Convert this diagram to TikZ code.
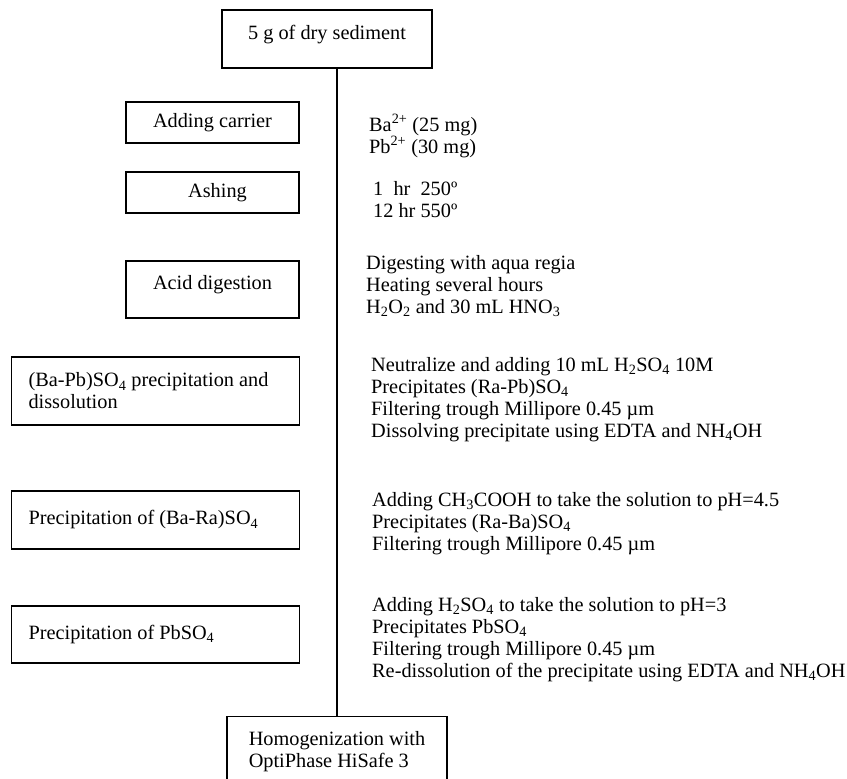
\documentclass[tikz,border=0pt]{standalone}
\usepackage{fontspec}
\setmainfont{Liberation Serif}

\begin{document}
\begin{tikzpicture}[x=1pt,y=-1pt,
    every node/.style={font=\fontsize{20.3}{22}\selectfont},
    stepbox/.style={draw, line width=1.1pt, inner sep=0pt, align=center, minimum width=173pt},
    widebox/.style={draw, line width=1.1pt, anchor=west, inner xsep=17pt, inner ysep=0pt,
                    text width=254pt, align=flush left},
    infotext/.style={anchor=west, inner sep=0pt, align=flush left}]
  \useasboundingbox (0,0) rectangle (847,779);
  \node[stepbox, minimum width=210pt, minimum height=58pt, text depth=14pt] (start) at (327,39) {5 g of dry sediment};
  \node[stepbox, minimum height=41pt] (carrier) at (212.5,122.5) {Adding carrier};
  \node[stepbox, minimum height=41pt] (ashing) at (212.5,192.5) {\hspace{10pt}Ashing};
  \node[stepbox, minimum height=57pt, text depth=13.5pt] (digestion) at (212.5,289.5) {Acid digestion};
  \node[widebox, minimum height=68pt] (bapb) at (11,391) {(Ba-Pb)SO\textsubscript{4} precipitation and\\dissolution};
  \node[widebox, minimum height=58pt] (bara) at (11,520) {Precipitation of (Ba-Ra)SO\textsubscript{4}};
  \node[widebox, minimum height=57pt] (pbso) at (11,634.5) {Precipitation of PbSO\textsubscript{4}};
  \node[stepbox, anchor=north, minimum width=220pt, inner ysep=15pt, align=flush left] (finish) at (337,716) {Homogenization with\\OptiPhase HiSafe 3};
  \draw[line width=1.1pt] (start.south -| finish.north) -- (finish.north);
  \node[infotext] (carrierinfo) at (369,136) {Ba\textsuperscript{2+} (25 mg)\\Pb\textsuperscript{2+} (30 mg)};
  \node[infotext] (ashinginfo) at (373,200) {1\ \ hr\ \ 250º\\12 hr 550º};
  \node[infotext] (digestioninfo) at (366,286) {Digesting with aqua regia\\Heating several hours\\H\textsubscript{2}O\textsubscript{2} and 30 mL HNO\textsubscript{3}};
  \node[infotext] (bapbinfo) at (371,400) {Neutralize and adding 10 mL H\textsubscript{2}SO\textsubscript{4} 10M\\Precipitates (Ra-Pb)SO\textsubscript{4}\\Filtering trough Millipore 0.45 µm\\Dissolving precipitate using EDTA and NH\textsubscript{4}OH};
  \node[infotext] (barainfo) at (372,524) {Adding CH\textsubscript{3}COOH to take the solution to pH=4.5\\Precipitates (Ra-Ba)SO\textsubscript{4}\\Filtering trough Millipore 0.45 µm};
  \node[infotext] (pbsoinfo) at (372,640) {Adding H\textsubscript{2}SO\textsubscript{4} to take the solution to pH=3\\Precipitates PbSO\textsubscript{4}\\Filtering trough Millipore 0.45 µm\\Re-dissolution of the precipitate using EDTA and NH\textsubscript{4}OH};
\end{tikzpicture}
\end{document}
